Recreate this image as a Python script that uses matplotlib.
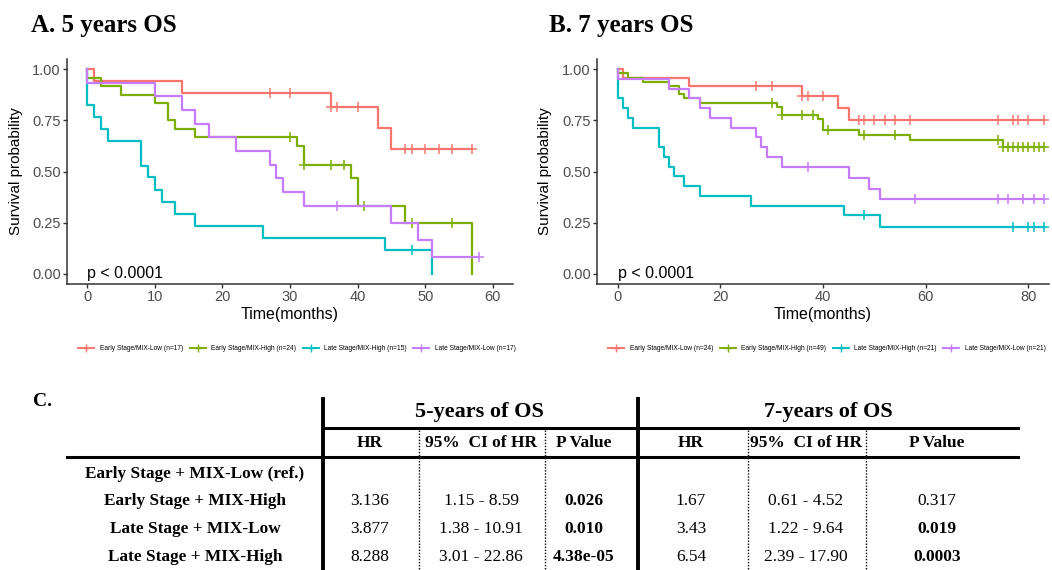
import numpy as np
import matplotlib
matplotlib.use("Agg")
import matplotlib.pyplot as plt
from matplotlib.lines import Line2D

W, H = 1052, 570
plt.rcParams['font.family'] = ['Liberation Sans', 'DejaVu Sans']

# group colours / labels (ggplot default hue palette)
colors = ['#F8766D', '#7CAE00', '#00BFC4', '#C77CFF']
labels_a = ['Early Stage/MIX-Low (n=17)', 'Early Stage/MIX-High (n=24)',
            'Late Stage/MIX-High (n=15)', 'Late Stage/MIX-Low (n=17)']
labels_b = ['Early Stage/MIX-Low (n=24)', 'Early Stage/MIX-High (n=49)',
            'Late Stage/MIX-High (n=21)', 'Late Stage/MIX-Low (n=21)']

# ---- panel A: 5 years OS (step times, survival after step, censor times)
a_el_t = [0, 1, 14, 36, 43, 45, 57]
a_el_s = [1.0, 0.941, 0.882, 0.813, 0.714, 0.610, 0.610]
a_el_c = [27, 30, 36, 37, 40, 47, 48, 50, 52, 54, 57]

a_eh_t = [0, 0, 2, 5, 10, 12, 13, 16, 31, 32, 39, 40, 47, 57]
a_eh_s = [1.0, 0.958, 0.917, 0.875, 0.833, 0.750, 0.708, 0.667, 0.625, 0.533, 0.467, 0.333, 0.250, 0.0]
a_eh_c = [30, 32, 36, 38, 41, 48, 54]

a_lh_t = [0, 0, 1, 2, 3, 8, 9, 10, 11, 13, 16, 26, 44, 51]
a_lh_s = [1.0, 0.824, 0.765, 0.706, 0.647, 0.529, 0.471, 0.412, 0.353, 0.294, 0.235, 0.176, 0.118, 0.0]
a_lh_c = [48]

a_ll_t = [0, 0, 10, 14, 16, 18, 22, 27, 28, 29, 32, 45, 49, 51, 58]
a_ll_s = [1.0, 0.933, 0.867, 0.800, 0.733, 0.667, 0.600, 0.533, 0.467, 0.400, 0.333, 0.250, 0.167, 0.083, 0.083]
a_ll_c = [37, 58]

# ---- panel B: 7 years OS
b_el_t = [0, 1, 14, 36, 43, 45, 83]
b_el_s = [1.0, 0.958, 0.917, 0.870, 0.812, 0.754, 0.754]
b_el_c = [27, 30, 36, 37, 40, 47, 48, 50, 52, 54, 57, 74, 77, 78, 80, 83]

b_eh_t = [0, 0, 2, 5, 10, 12, 13, 16, 31, 32, 39, 40, 47, 57, 75, 83]
b_eh_s = [1.0, 0.980, 0.959, 0.939, 0.918, 0.878, 0.857, 0.837, 0.816, 0.775, 0.755, 0.704, 0.680, 0.655, 0.620, 0.620]
b_eh_c = [30, 32, 36, 38, 41, 48, 54, 74, 75, 76, 77, 78, 79, 80, 81, 82, 83]

b_lh_t = [0, 0, 1, 2, 3, 8, 9, 10, 11, 13, 16, 26, 44, 51, 83]
b_lh_s = [1.0, 0.857, 0.810, 0.762, 0.714, 0.619, 0.571, 0.524, 0.476, 0.429, 0.381, 0.333, 0.286, 0.229, 0.229]
b_lh_c = [48, 77, 80, 81, 83]

b_ll_t = [0, 0, 10, 14, 16, 18, 22, 27, 28, 29, 32, 45, 49, 51, 83]
b_ll_s = [1.0, 0.952, 0.905, 0.857, 0.810, 0.762, 0.714, 0.667, 0.619, 0.571, 0.524, 0.468, 0.416, 0.364, 0.364]
b_ll_c = [37, 58, 74, 76, 79, 81, 83]

# ---- table C
row_labels = ['Early Stage + MIX-Low (ref.)', 'Early Stage + MIX-High',
              'Late Stage + MIX-Low', 'Late Stage + MIX-High']
hr5 = ['', '3.136', '3.877', '8.288']
ci5 = ['', '1.15 - 8.59', '1.38 - 10.91', '3.01 - 22.86']
p5 = ['', '0.026', '0.010', '4.38e-05']
p5_bold = [False, True, True, True]
hr7 = ['', '1.67', '3.43', '6.54']
ci7 = ['', '0.61 - 4.52', '1.22 - 9.64', '2.39 - 17.90']
p7 = ['', '0.317', '0.019', '0.0003']
p7_bold = [False, False, True, True]
sub_heads = ['HR', '95%  CI of HR', 'P Value']


def px(x0, y0, x1, y1):
    return [x0 / W, 1 - y1 / H, (x1 - x0) / W, (y1 - y0) / H]


def km_panel(ax, curves, xmax, xstep, labels, lab_x):
    for (t, s, c), col in zip(curves, colors):
        ax.step(t, s, where='post', color=col, lw=1.6)
        idx = np.searchsorted(t, c, side='right') - 1
        ax.plot(c, np.array(s)[idx], ls='none', marker='+', ms=6.5, mew=1.1, color=col)
    ax.set_xlim(-0.05 * xmax, 1.05 * xmax)
    ax.set_ylim(-0.05, 1.05)
    ax.set_xticks(np.arange(0, xmax + 1, xstep))
    ax.set_yticks([0, 0.25, 0.5, 0.75, 1.0])
    ax.set_yticklabels(['0.00', '0.25', '0.50', '0.75', '1.00'])
    for sp in ['top', 'right']:
        ax.spines[sp].set_visible(False)
    for sp in ['left', 'bottom']:
        ax.spines[sp].set_linewidth(1.1)
        ax.spines[sp].set_color('#333333')
    ax.tick_params(length=3, width=1.0, color='#333333', labelsize=10.5,
                   labelcolor='#4D4D4D', pad=1.5)
    ax.set_xlabel('Time(months)', fontsize=11.5, labelpad=2)
    ax.set_ylabel('Survival probability', fontsize=11)
    ax.yaxis.set_label_coords(-0.099, 0.5)
    ax.text(0, 0.0, 'p < 0.0001', fontsize=11.5, ha='left', va='center')
    handles = [Line2D([], [], color=col, lw=1.4, marker='+', ms=6) for col in colors]
    fig.legend(handles, labels, loc='center', bbox_to_anchor=(lab_x / W, 1 - 349 / H),
               ncol=4, frameon=False, fontsize=4.8, handlelength=2.4,
               handletextpad=0.8, columnspacing=1.0)


fig = plt.figure(figsize=(W / 100, H / 100), dpi=100)

ax_a = fig.add_axes(px(67, 59, 513, 284))
km_panel(ax_a, [(a_el_t, a_el_s, a_el_c), (a_eh_t, a_eh_s, a_eh_c),
                (a_lh_t, a_lh_s, a_lh_c), (a_ll_t, a_ll_s, a_ll_c)], 60, 10, labels_a, 297)

ax_b = fig.add_axes(px(597, 59, 1049, 284))
km_panel(ax_b, [(b_el_t, b_el_s, b_el_c), (b_eh_t, b_eh_s, b_eh_c),
                (b_lh_t, b_lh_s, b_lh_c), (b_ll_t, b_ll_s, b_ll_c)], 80, 20, labels_b, 827)

# overlay in pixel coords for titles + table
ov = fig.add_axes([0, 0, 1, 1])
ov.set_xlim(0, W)
ov.set_ylim(H, 0)
ov.axis('off')
ov.patch.set_alpha(0)

serif = ['Liberation Serif', 'DejaVu Serif']
ov.text(31, 32, 'A. 5 years OS', family=serif, weight='bold', fontsize=18, va='baseline')
ov.text(549, 32, 'B. 7 years OS', family=serif, weight='bold', fontsize=18, va='baseline')
ov.text(33, 406, 'C.', family=serif, weight='bold', fontsize=14, va='baseline')

# table lines
ov.plot([323, 323], [397, H], color='black', lw=2.8, solid_capstyle='butt')
ov.plot([638, 638], [397, H], color='black', lw=2.8, solid_capstyle='butt')
ov.plot([323, 1018], [428, 428], color='black', lw=2.2)
ov.plot([67, 1018], [457, 457], color='black', lw=2.2)
for xd in [419, 545, 748, 866]:
    ov.plot([xd, xd], [430, H], color='black', lw=1.0, ls=(0, (1, 1.2)))

ov.text(479, 412, '5-years of OS', family=serif, weight='bold', fontsize=16, ha='center', va='center')
ov.text(828, 412, '7-years of OS', family=serif, weight='bold', fontsize=16, ha='center', va='center')

col_x = [370, 481, 584, 691, 806, 937]
for x, lab in zip(col_x, sub_heads + sub_heads):
    ov.text(x, 443, lab, family=serif, weight='bold', fontsize=12.5, ha='center', va='center')

row_y = [474, 501, 529, 557]
for i, y in enumerate(row_y):
    ov.text(195, y, row_labels[i], family=serif, weight='bold', fontsize=12.4, ha='center', va='center')
    vals = [hr5[i], ci5[i], p5[i], hr7[i], ci7[i], p7[i]]
    bolds = [False, False, p5_bold[i], False, False, p7_bold[i]]
    for x, v, b in zip(col_x, vals, bolds):
        ov.text(x, y, v, family=serif, weight='bold' if b else 'normal', fontsize=12.5,
                ha='center', va='center')

fig.savefig('out.png', dpi=100)
